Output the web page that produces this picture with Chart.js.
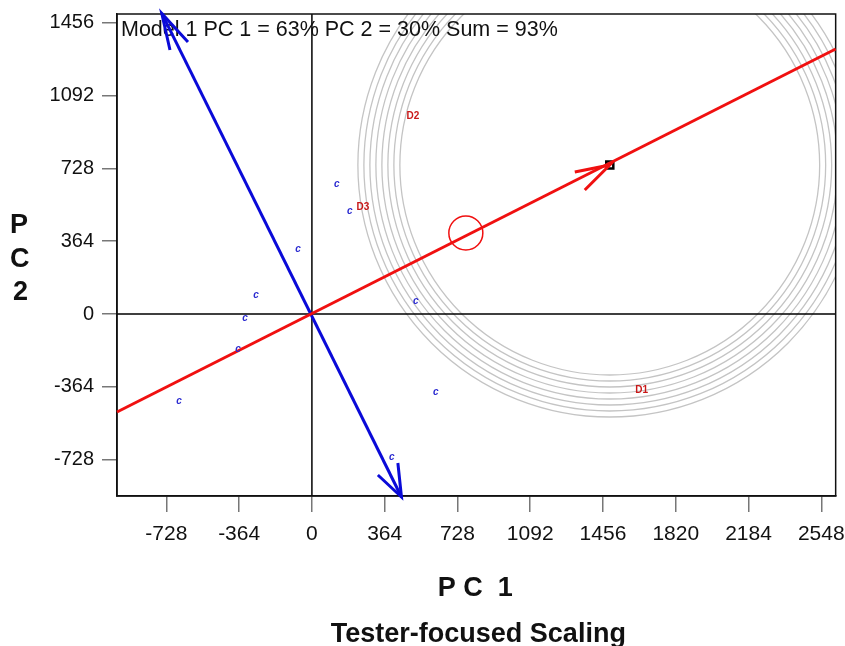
<!DOCTYPE html>
<html>
<head>
<meta charset="utf-8">
<script src="https://cdn.jsdelivr.net/npm/chart.js@4"></script>
<style>
  html, body { margin: 0; padding: 0; background: #fff; overflow: hidden; }
  #wrap { width: 845px; height: 646px; overflow: hidden; position: relative; }
  #biplot { position: absolute; left: 0; top: -6px; }
</style>
</head>
<body>
<div id="wrap"><canvas id="biplot" width="855" height="652"></canvas></div>
<script>
// tick labels
const xTicks = [-728, -364, 0, 364, 728, 1092, 1456, 1820, 2184, 2548];
const yTicks = [-728, -364, 0, 364, 728, 1092, 1456];

// genotype scores (labelled "c")
const genoX = [125, 190, -70, -280, -335, -370, -665, 520, 620, 400];
const genoY = [650, 515, 325, 95, -20, -175, -435, 65, -390, -715];

// environment scores
const envNames = ['D1', 'D2', 'D3'];
const envX = [1650, 505, 255];
const envY = [-380, 990, 535];

// average environment axis (red) and its ordinate (blue)
const aeaX = [-975, 2620];
const aeaY = [-490, 1325];
const aecX = [-751, 448];
const aecY = [1503, -915];

// arrow heads: barb, tip, barb
const aeaHeadX = [1315, 1490, 1365];
const aeaHeadY = [710, 745, 620];
const aecTopHeadX = [-710, -751, -620];
const aecTopHeadY = [1320, 1503, 1360];
const aecBotHeadX = [330, 448, 430];
const aecBotHeadY = [-805, -915, -745];

// ideal environment, average environment
const ideal = { x: 1490, y: 745 };
const avgEnv = { x: 770, y: 405 };

// concentric rings round the ideal environment (data units)
const ringRadii = [1050, 1080, 1110, 1140, 1170, 1200, 1230, 1260];

const toPts = (xs, ys) => xs.map((x, i) => ({ x: x, y: ys[i] }));

const RED = '#f01010';
const BLUE = '#0a0ad8';
const DY = 6; // canvas sits 6px above the page

const backdrop = {
  id: 'backdrop',
  beforeDatasetsDraw(chart) {
    const { ctx, chartArea: a, scales: { x, y } } = chart;
    ctx.save();
    ctx.beginPath();
    ctx.rect(a.left, a.top, a.right - a.left, a.bottom - a.top);
    ctx.clip();
    // rings
    const cx = x.getPixelForValue(ideal.x), cy = y.getPixelForValue(ideal.y);
    ctx.strokeStyle = '#c4c4c4';
    ctx.lineWidth = 1.3;
    ringRadii.forEach(r => {
      const rx = Math.abs(x.getPixelForValue(ideal.x + r) - cx);
      const ry = Math.abs(y.getPixelForValue(ideal.y + r) - cy);
      ctx.beginPath();
      ctx.ellipse(cx, cy, rx, ry, 0, 0, Math.PI * 2);
      ctx.stroke();
    });
    // zero lines
    const x0 = x.getPixelForValue(0), y0 = y.getPixelForValue(0);
    ctx.strokeStyle = '#000';
    ctx.lineWidth = 1.5;
    ctx.beginPath();
    ctx.moveTo(a.left, y0); ctx.lineTo(a.right, y0);
    ctx.moveTo(x0, a.top); ctx.lineTo(x0, a.bottom);
    ctx.stroke();
    ctx.restore();

    // frame
    ctx.save();
    ctx.strokeStyle = '#111';
    ctx.lineWidth = 1.5;
    ctx.strokeRect(a.left, a.top, a.right - a.left, a.bottom - a.top);
    // model text
    ctx.fillStyle = '#111';
    ctx.font = '21.5px "Liberation Sans", Arial, sans-serif';
    ctx.textBaseline = 'alphabetic';
    ctx.textAlign = 'left';
    ctx.fillText('Model 1 PC 1 = 63% PC 2 = 30% Sum = 93%', a.left + 4, a.top + 22);
    ctx.restore();
  },
  afterDatasetsDraw(chart) {
    const { ctx } = chart;
    ctx.save();
    ctx.textAlign = 'center';
    ctx.textBaseline = 'middle';
    chart.data.datasets.forEach((ds, di) => {
      if (!ds.labels) return;
      const meta = chart.getDatasetMeta(di);
      ctx.font = ds.labelFont;
      ctx.fillStyle = ds.labelColor;
      meta.data.forEach((pt, i) => ctx.fillText(ds.labels[i], pt.x, pt.y));
    });
    ctx.restore();
  },
  afterDraw(chart) {
    const { ctx, chartArea: a } = chart;
    ctx.save();
    ctx.fillStyle = '#111';
    ctx.font = 'bold 27px "Liberation Sans", Arial, sans-serif';
    ctx.textAlign = 'center';
    ctx.textBaseline = 'alphabetic';
    ctx.fillText('P C  1', (a.left + a.right) / 2 - 1, 596 + DY);
    ctx.fillText('Tester-focused Scaling', (a.left + a.right) / 2 + 2, 642 + DY);
    ctx.textAlign = 'left';
    ctx.fillText('P', 10, 233 + DY);
    ctx.fillText('C', 10, 267 + DY);
    ctx.fillText('2', 13, 300 + DY);
    ctx.restore();
  }
};

const lineDs = (xs, ys, color) => ({
  type: 'line',
  data: toPts(xs, ys),
  borderColor: color,
  borderWidth: 3,
  pointRadius: 0,
  fill: false,
  tension: 0,
  clip: false
});

new Chart(document.getElementById('biplot').getContext('2d'), {
  type: 'scatter',
  data: {
    datasets: [
      lineDs(aeaX, aeaY, RED),
      lineDs(aecX, aecY, BLUE),
      lineDs(aeaHeadX, aeaHeadY, RED),
      lineDs(aecTopHeadX, aecTopHeadY, BLUE),
      lineDs(aecBotHeadX, aecBotHeadY, BLUE),
      {
        data: [avgEnv],
        pointStyle: 'circle',
        pointRadius: 17,
        borderColor: RED,
        borderWidth: 1.5,
        backgroundColor: 'rgba(0,0,0,0)'
      },
      {
        data: [ideal],
        pointStyle: 'rect',
        pointRadius: 5,
        borderColor: '#000',
        borderWidth: 2.5,
        backgroundColor: 'rgba(0,0,0,0)'
      },
      {
        data: toPts(genoX, genoY),
        pointRadius: 0,
        labels: genoX.map(() => 'c'),
        labelFont: 'italic bold 10px "Liberation Sans", Arial, sans-serif',
        labelColor: '#2a2ad0'
      },
      {
        data: toPts(envX, envY),
        pointRadius: 0,
        labels: envNames,
        labelFont: 'bold 10px "Liberation Sans", Arial, sans-serif',
        labelColor: '#c81818'
      }
    ]
  },
  options: {
    responsive: false,
    animation: false,
    layout: { padding: { left: 0, top: 14, right: 0, bottom: 0 } },
    plugins: {
      legend: { display: false },
      tooltip: { enabled: false }
    },
    scales: {
      x: {
        type: 'linear',
        min: -975,
        max: 2620,
        afterFit: s => { s.height = 150; },
        afterBuildTicks: s => { s.ticks = xTicks.map(v => ({ value: v })); },
        grid: { drawOnChartArea: false, drawTicks: true, tickLength: 16, color: '#777', lineWidth: 1.5 },
        border: { display: true, color: '#111', width: 1.5 },
        ticks: {
          autoSkip: false,
          maxRotation: 0,
          padding: 10,
          color: '#111',
          font: { family: '"Liberation Sans", Arial, sans-serif', size: 21 },
          callback: v => String(v)
        }
      },
      y: {
        type: 'linear',
        min: -910,
        max: 1500,
        afterFit: s => { s.width = 117; },
        afterBuildTicks: s => { s.ticks = yTicks.map(v => ({ value: v })); },
        grid: { drawOnChartArea: false, drawTicks: true, tickLength: 15, color: '#777', lineWidth: 1.5 },
        border: { display: true, color: '#111', width: 1.5 },
        ticks: {
          autoSkip: false,
          padding: 8,
          color: '#111',
          font: { family: '"Liberation Sans", Arial, sans-serif', size: 20 },
          callback: v => String(v)
        }
      }
    }
  },
  plugins: [backdrop]
});
</script>
</body>
</html>
